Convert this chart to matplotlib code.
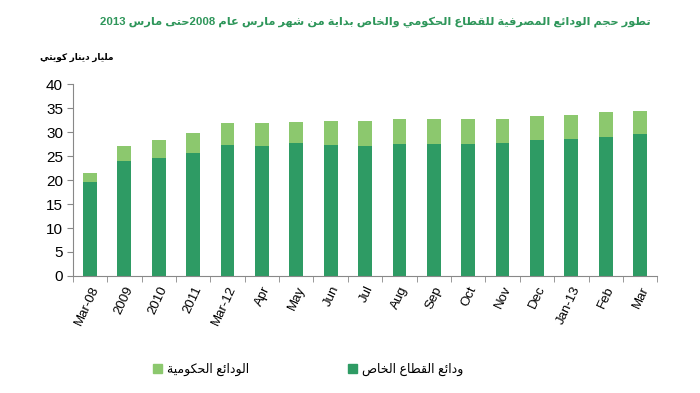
import re
import numpy as np
import matplotlib
matplotlib.use('Agg')
import matplotlib.pyplot as plt
from matplotlib.patches import Patch

# بيانات الرسم (مليار دينار كويتي)
categories = ['Mar-08', '2009', '2010', '2011', 'Mar-12', 'Apr', 'May', 'Jun', 'Jul',
              'Aug', 'Sep', 'Oct', 'Nov', 'Dec', 'Jan-13', 'Feb', 'Mar']
private = [19.6, 24.0, 24.7, 25.6, 27.3, 27.2, 27.7, 27.4, 27.1,
           27.5, 27.5, 27.5, 27.7, 28.3, 28.6, 29.1, 29.6]
total = [21.5, 27.2, 28.5, 29.8, 31.9, 31.9, 32.2, 32.4, 32.3,
         32.8, 32.7, 32.7, 32.8, 33.4, 33.7, 34.2, 34.5]
government = [t - p for t, p in zip(total, private)]

title = 'تطور حجم الودائع المصرفية للقطاع الحكومي والخاص بداية من شهر مارس عام 2008حتى مارس 2013'
unit = 'مليار دينار كويتي'
lbl_gov = 'الودائع الحكومية'
lbl_priv = 'ودائع القطاع الخاص'

# matplotlib لا يشكّل الحروف العربية، نحولها يدوياً إلى أشكال العرض
AR_FORMS = {
    'ء': (0xFE80, 1), 'آ': (0xFE81, 2), 'أ': (0xFE83, 2), 'ؤ': (0xFE85, 2), 'إ': (0xFE87, 2),
    'ئ': (0xFE89, 4), 'ا': (0xFE8D, 2), 'ب': (0xFE8F, 4), 'ة': (0xFE93, 2), 'ت': (0xFE95, 4),
    'ث': (0xFE99, 4), 'ج': (0xFE9D, 4), 'ح': (0xFEA1, 4), 'خ': (0xFEA5, 4), 'د': (0xFEA9, 2),
    'ذ': (0xFEAB, 2), 'ر': (0xFEAD, 2), 'ز': (0xFEAF, 2), 'س': (0xFEB1, 4), 'ش': (0xFEB5, 4),
    'ص': (0xFEB9, 4), 'ض': (0xFEBD, 4), 'ط': (0xFEC1, 4), 'ظ': (0xFEC5, 4), 'ع': (0xFEC9, 4),
    'غ': (0xFECD, 4), 'ف': (0xFED1, 4), 'ق': (0xFED5, 4), 'ك': (0xFED9, 4), 'ل': (0xFEDD, 4),
    'م': (0xFEE1, 4), 'ن': (0xFEE5, 4), 'ه': (0xFEE9, 4), 'و': (0xFEED, 2), 'ى': (0xFEEF, 2),
    'ي': (0xFEF1, 4),
}


def shape(text):
    out = []
    i = 0
    prev_joins = False
    while i < len(text):
        c = text[i]
        if c not in AR_FORMS:
            out.append(c)
            prev_joins = False
            i += 1
            continue
        if c == 'ل' and i + 1 < len(text) and text[i + 1] == 'ا':
            out.append('\uFEFC' if prev_joins else '\uFEFB')
            prev_joins = False
            i += 2
            continue
        base, n = AR_FORMS[c]
        nxt = text[i + 1] if i + 1 < len(text) else ''
        next_joins = n == 4 and nxt in AR_FORMS
        if n == 1:
            form = 0
        elif prev_joins and next_joins:
            form = 3
        elif prev_joins:
            form = 1
        elif next_joins:
            form = 2
        else:
            form = 0
        out.append(chr(base + form))
        prev_joins = next_joins
        i += 1
    s = ''.join(out)[::-1]
    return re.sub(r'[0-9]+', lambda m: m.group()[::-1], s)


dark = '#2e9b64'
light = '#8cc86e'
plt.rcParams['font.family'] = ['Liberation Sans', 'DejaVu Sans']
ar_fonts = ['Liberation Sans', 'DejaVu Sans']

fig = plt.figure(figsize=(7, 3.93), dpi=100)
ax = fig.add_axes([0.104, 0.298, 0.835, 0.487])

x = np.arange(len(categories))
ax.bar(x, private, width=0.4, color=dark)
ax.bar(x, government, width=0.4, bottom=private, color=light)

ax.set_xlim(-0.5, len(categories) - 0.5)
ax.set_ylim(0, 40)
ax.set_yticks(range(0, 41, 5))
ax.tick_params(axis='y', labelsize=11, length=4, color='#888888', pad=3)
ax.set_xticks(x)
ax.set_xticklabels(categories, rotation=65, ha='right', rotation_mode='anchor', fontsize=9.5)
ax.tick_params(axis='x', which='major', length=0, pad=6)
ax.set_xticks(np.arange(-0.5, len(categories)), minor=True)
ax.tick_params(axis='x', which='minor', length=4, color='#888888')
for s in ['top', 'right']:
    ax.spines[s].set_visible(False)
for s in ['left', 'bottom']:
    ax.spines[s].set_color('#888888')

fig.text(0.93, 0.942, shape(title), ha='right', va='center', color='#2e965a',
         fontsize=8.2, fontweight='bold', family=ar_fonts)
fig.text(0.162, 0.855, shape(unit), ha='right', va='center', fontsize=6.5,
         fontweight='bold', family=ar_fonts)

handles = [Patch(color=light), Patch(color=dark)]
fig.legend(handles, [shape(lbl_gov), shape(lbl_priv)], ncol=2, frameon=False,
           loc='center', bbox_to_anchor=(0.44, 0.06),
           prop={'family': ar_fonts, 'size': 9},
           handlelength=0.7, handleheight=0.7, handletextpad=0.4, columnspacing=7.9)

fig.savefig('out.png', dpi=100)
